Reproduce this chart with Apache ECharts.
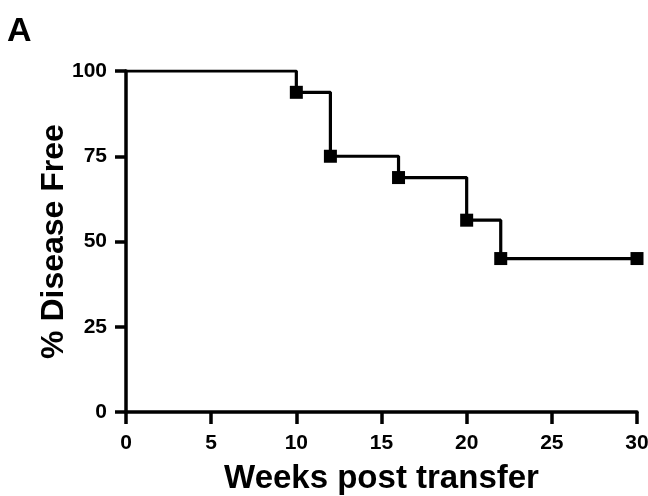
<!DOCTYPE html>
<html><head><meta charset="utf-8">
<script src="https://cdn.jsdelivr.net/npm/echarts@6/dist/echarts.min.js"></script>
<style>html,body{margin:0;padding:0;background:#fff}#c{width:648px;height:496px}</style>
</head><body><div id="c"></div>
<script>
const weeks = [0, 10, 12, 16, 20, 22, 30];
const diseaseFree = [100, 93.75, 75, 68.75, 56.25, 45, 45];
const showMarker = [false, true, true, true, true, true, true];
const xTicks = [0, 5, 10, 15, 20, 25, 30];
const yTicks = [0, 25, 50, 75, 100];

const FONT = '"Liberation Sans", Arial, sans-serif';
const chart = echarts.init(document.getElementById('c'), null, {renderer: 'canvas'});
const stepData = weeks.map((w, i) => ({
  value: [w, diseaseFree[i]],
  symbol: showMarker[i] ? 'rect' : 'none'
}));
chart.setOption({
  animation: false,
  backgroundColor: '#fff',
  graphic: [{type: 'text', left: 7, top: 15, style: {text: 'A', font: 'bold 34px ' + FONT, fill: '#000'}}],
  grid: {left: 126, right: 11, top: 71, bottom: 84, containLabel: false, outerBoundsMode: 'none'},
  xAxis: {
    type: 'value', min: xTicks[0], max: xTicks[xTicks.length - 1], interval: 5,
    name: 'Weeks post transfer', nameLocation: 'middle', nameGap: 50,
    nameTextStyle: {fontFamily: FONT, fontWeight: 'bold', fontSize: 33, color: '#000'},
    axisLine: {show: true, lineStyle: {color: '#000', width: 3.5}},
    axisTick: {show: true, inside: false, length: 12, lineStyle: {color: '#000', width: 3.5}},
    axisLabel: {margin: 21, fontFamily: FONT, fontWeight: 'bold', fontSize: 21, color: '#000'},
    splitLine: {show: false}
  },
  yAxis: {
    type: 'value', min: yTicks[0], max: yTicks[yTicks.length - 1], interval: 25,
    name: '% Disease Free', nameLocation: 'middle', nameGap: 56, nameRotate: 90,
    nameMoveOverlap: false,
    nameTextStyle: {fontFamily: FONT, fontWeight: 'bold', fontSize: 32, color: '#000'},
    axisLine: {show: true, lineStyle: {color: '#000', width: 3.5}},
    axisTick: {show: true, inside: false, length: 11, lineStyle: {color: '#000', width: 3.5}},
    axisLabel: {margin: 19, fontFamily: FONT, fontWeight: 'bold', fontSize: 21, color: '#000'},
    splitLine: {show: false}
  },
  series: [{
    type: 'line', step: 'end', data: stepData,
    symbolSize: 13, showAllSymbol: true,
    lineStyle: {color: '#000', width: 3.2},
    itemStyle: {color: '#000'}
  }]
});
</script></body></html>
